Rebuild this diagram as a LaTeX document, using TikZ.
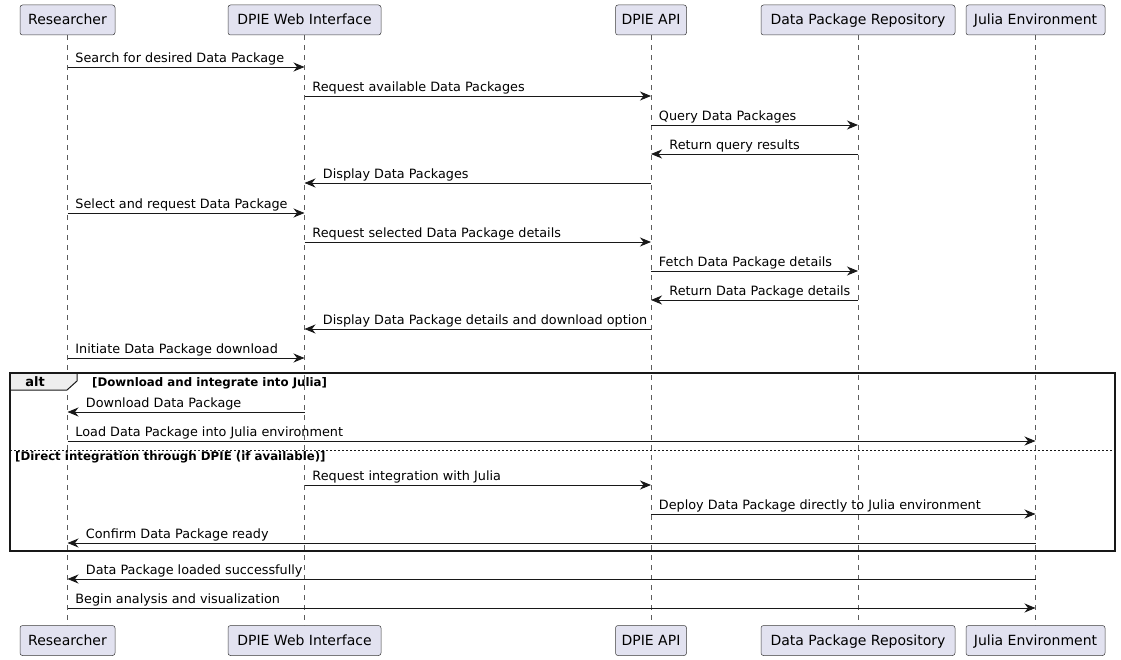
\documentclass[tikz,border=0pt]{standalone}
\usepackage{fontspec}
\setmainfont{DejaVu Sans}
\usetikzlibrary{arrows.meta}
\definecolor{partfill}{HTML}{E2E2F0}
\definecolor{ink}{HTML}{181818}
\definecolor{tabfill}{HTML}{EEEEEE}
\begin{document}
\begin{tikzpicture}[x=1pt,y=-1pt,
 part/.style={draw=ink!85,fill=partfill,rounded corners=2.5pt,line width=0.5pt,minimum height=30pt,inner xsep=0pt,text height=11pt,text depth=1pt,font=\fontsize{14}{16}\selectfont},
 life/.style={draw=ink!70, dash pattern=on 5pt off 5pt, line width=0.6pt},
 msg/.style={draw=ink,line width=0.9pt,-{Stealth[length=11pt,width=9pt,inset=3.5pt]}},
 lbl/.style={font=\fontsize{12.8}{15}\selectfont,anchor=base west,inner sep=0pt,text=black},
 lr/.style={pos=0,xshift=7.5pt,yshift=4.5pt},
 rl/.style={pos=1,xshift=18pt,yshift=4.5pt},
 guard/.style={font=\bfseries\fontsize{11.8}{13}\selectfont,anchor=base west,inner sep=0pt},
]
\useasboundingbox (0,0) rectangle (1121,660);

% participants top
\node[part,minimum width=95pt]  (R) at (67.5,20)  {Researcher};
\node[part,minimum width=153pt] (W) at (304.5,20) {DPIE Web Interface};
\node[part,minimum width=71pt]  (A) at (651,20)   {DPIE API};
\node[part,minimum width=194pt] (P) at (858,20)   {Data Package Repository};
\node[part,minimum width=139pt] (J) at (1035.5,20){Julia Environment};
% participants bottom
\node[part,minimum width=95pt]  (R2) at (67.5,640.5)  {Researcher};
\node[part,minimum width=153pt] (W2) at (304.5,640.5) {DPIE Web Interface};
\node[part,minimum width=71pt]  (A2) at (651,640.5)   {DPIE API};
\node[part,minimum width=194pt] (P2) at (858,640.5)   {Data Package Repository};
\node[part,minimum width=139pt] (J2) at (1035.5,640.5){Julia Environment};

% lifelines
\foreach \a/\b in {R/R2,W/W2,A/A2,P/P2,J/J2}
  \draw[life] (\a.south) -- (\b.north);

% alt frame
\filldraw[fill=tabfill,draw=ink,line width=1pt] (10,373) -- (77,373) -- (77,381) -- (67,390) -- (10,390) -- cycle;
\draw[ink,line width=1.5pt] (10,373) rectangle (1115,551);
\node[font=\bfseries\fontsize{13}{15}\selectfont,inner sep=0pt] (alt) at (35,382) {alt};
\node[guard] (g1) at (92,386) {[Download and integrate into Julia]};
\draw[ink,line width=0.9pt,dash pattern=on 2pt off 2pt] (10,450) -- (1115,450);
\node[guard] (g2) at (15,460) {[Direct integration through DPIE (if available)]};

% messages
\draw[msg] (R |- 0,67)  -- (W |- 0,67)  node[lbl,lr] {Search for desired Data Package};
\draw[msg] (W |- 0,96)  -- (A |- 0,96)  node[lbl,lr] {Request available Data Packages};
\draw[msg] (A |- 0,125) -- (P |- 0,125) node[lbl,lr] {Query Data Packages};
\draw[msg] (P |- 0,154) -- (A |- 0,154) node[lbl,rl] {Return query results};
\draw[msg] (A |- 0,183) -- (W |- 0,183) node[lbl,rl] {Display Data Packages};
\draw[msg] (R |- 0,213) -- (W |- 0,213) node[lbl,lr] {Select and request Data Package};
\draw[msg] (W |- 0,242) -- (A |- 0,242) node[lbl,lr] {Request selected Data Package details};
\draw[msg] (A |- 0,271) -- (P |- 0,271) node[lbl,lr] {Fetch Data Package details};
\draw[msg] (P |- 0,300) -- (A |- 0,300) node[lbl,rl] {Return Data Package details};
\draw[msg] (A |- 0,329) -- (W |- 0,329) node[lbl,rl] {Display Data Package details and download option};
\draw[msg] (R |- 0,358) -- (W |- 0,358) node[lbl,lr] {Initiate Data Package download};
\draw[msg] (W |- 0,412) -- (R |- 0,412) node[lbl,rl] {Download Data Package};
\draw[msg] (R |- 0,441) -- (J |- 0,441) node[lbl,lr] {Load Data Package into Julia environment};
\draw[msg] (W |- 0,485) -- (A |- 0,485) node[lbl,lr] {Request integration with Julia};
\draw[msg] (A |- 0,514) -- (J |- 0,514) node[lbl,lr] {Deploy Data Package directly to Julia environment};
\draw[msg] (J |- 0,543) -- (R |- 0,543) node[lbl,rl] {Confirm Data Package ready};
\draw[msg] (J |- 0,579) -- (R |- 0,579) node[lbl,rl] {Data Package loaded successfully};
\draw[msg] (R |- 0,608) -- (J |- 0,608) node[lbl,lr] {Begin analysis and visualization};
\end{tikzpicture}
\end{document}
